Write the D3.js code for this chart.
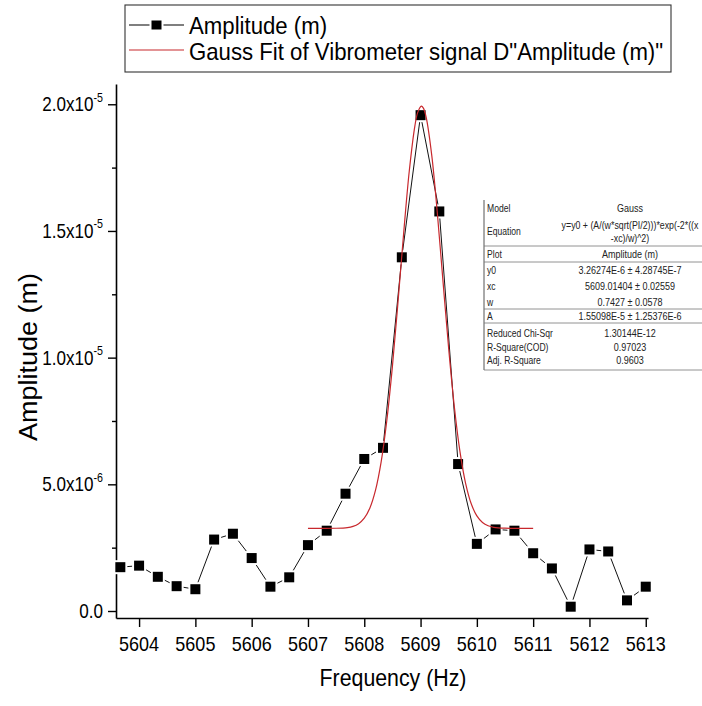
<!DOCTYPE html>
<html><head><meta charset="utf-8">
<script src="https://cdn.jsdelivr.net/npm/d3@7"></script>
<style>body{margin:0;background:#fff}svg{display:block}</style>
</head><body><svg id="c" width="702" height="706"></svg>
<script>
// ---- data ----
const freq = [5603.667, 5604.0, 5604.333, 5604.667, 5605.0, 5605.333, 5605.667, 5606.0, 5606.333, 5606.667,
  5607.0, 5607.333, 5607.667, 5608.0, 5608.333, 5608.667, 5609.0, 5609.333, 5609.667, 5610.0,
  5610.333, 5610.667, 5611.0, 5611.333, 5611.667, 5612.0, 5612.333, 5612.667, 5613.0];
const amplitude = [1.73e-6, 1.79e-6, 1.35e-6, 0.98e-6, 0.86e-6, 2.82e-6, 3.05e-6, 2.09e-6, 0.96e-6, 1.33e-6,
  2.60e-6, 3.17e-6, 4.63e-6, 6.00e-6, 6.44e-6, 13.96e-6, 19.57e-6, 15.77e-6, 5.80e-6, 2.65e-6,
  3.22e-6, 3.17e-6, 2.28e-6, 1.68e-6, 0.17e-6, 2.43e-6, 2.35e-6, 0.42e-6, 0.96e-6];
const fitFreq = [5607.0, 5607.5, 5607.7, 5607.8, 5607.9, 5608.0, 5608.1, 5608.2, 5608.3, 5608.4, 5608.5,
  5608.6, 5608.7, 5608.8, 5608.9, 5608.95, 5609.014, 5609.05, 5609.1, 5609.2, 5609.3, 5609.4, 5609.5,
  5609.6, 5609.7, 5609.8, 5609.9, 5610.0, 5610.1, 5610.2, 5610.3, 5610.5, 5611.0];
const fitAmp = [3.263e-6, 3.267e-6, 3.294e-6, 3.342e-6, 3.448e-6, 3.663e-6, 4.069e-6, 4.771e-6, 5.887e-6, 7.510e-6, 9.656e-6,
  12.214e-6, 14.917e-6, 17.376e-6, 19.159e-6, 19.679e-6, 19.925e-6, 19.847e-6, 19.484e-6, 17.961e-6, 15.650e-6, 12.971e-6, 10.340e-6,
  8.060e-6, 6.287e-6, 5.037e-6, 4.230e-6, 3.753e-6, 3.494e-6, 3.364e-6, 3.304e-6, 3.268e-6, 3.263e-6];
const xTicks = [5604, 5605, 5606, 5607, 5608, 5609, 5610, 5611, 5612, 5613];
const yTicks = [0, 5e-6, 1e-5, 1.5e-5, 2e-5];
const yTickMain = ["0.0", "5.0x10", "1.0x10", "1.5x10", "2.0x10"];
const yTickExp = ["", "-6", "-5", "-5", "-5"];
const yMinorTicks = [2.5e-6, 7.5e-6, 1.25e-5, 1.75e-5];
const xTitle = "Frequency (Hz)";
const yTitle = "Amplitude (m)";
const legendLabels = ["Amplitude (m)", "Gauss Fit of Vibrometer signal D\"Amplitude (m)\""];
const tableLabels = ["Model", "Equation", "Plot", "y0", "xc", "w", "A", "Reduced Chi-Sqr", "R-Square(COD)", "Adj. R-Square"];
const tableValues = ["Gauss", "y=y0 + (A/(w*sqrt(PI/2)))*exp(-2*((x|-xc)/w)^2)", "Amplitude (m)",
  "3.26274E-6 \u00b1 4.28745E-7", "5609.01404 \u00b1 0.02559", "0.7427 \u00b1 0.0578", "1.55098E-5 \u00b1 1.25376E-6",
  "1.30144E-12", "0.97023", "0.9603"];

// ---- layout ----
const FONT = "'Liberation Sans', Arial, sans-serif";
const svg = d3.select("#c");
const x = d3.scaleLinear().domain([5603.59, 5613.04]).range([116, 648]);
const y = d3.scaleLinear().domain([-0.276e-6, 2.08e-5]).range([618, 84]);

function txt(g, px, py, str, size, sx, anchor, rot) {
  return g.append("text")
    .attr("transform", `translate(${px},${py}) scale(${sx},1)` + (rot ? ` rotate(${rot})` : ""))
    .attr("font-family", FONT).attr("font-size", size).attr("text-anchor", anchor || "start")
    .attr("fill", "#000").text(str);
}

// axes
svg.append("g").attr("transform", "translate(0,618)")
  .call(d3.axisBottom(x).tickValues(xTicks).tickSize(9).tickSizeOuter(0).tickFormat(""));
svg.append("g").attr("transform", "translate(116,0)")
  .call(d3.axisLeft(y).tickValues(yTicks).tickSize(8).tickSizeOuter(0).tickFormat(""));
svg.append("g").attr("transform", "translate(116,0)")
  .call(d3.axisLeft(y).tickValues(yMinorTicks).tickSize(4).tickSizeOuter(0).tickFormat(""))
  .select(".domain").remove();
svg.selectAll(".domain").attr("stroke", "#000").attr("stroke-width", 1.6);
svg.selectAll(".tick line").attr("stroke", "#000").attr("stroke-width", 1.4);

// tick labels
xTicks.forEach(v => txt(svg, x(v), 651, String(v), 20, 0.9, "middle"));
yTicks.forEach((v, i) => {
  const t = txt(svg, 103, y(v) + 7, null, 20, 0.855, "end");
  t.append("tspan").text(yTickMain[i]);
  if (yTickExp[i]) t.append("tspan").attr("dy", -9.5).attr("font-size", 12.5).text(yTickExp[i]);
});
// titles
txt(svg, 393, 686, xTitle, 24.5, 0.87, "middle");
txt(svg, 37, 357, yTitle, 27, 0.95, "middle", -90);

// data line + markers
svg.append("path").datum(freq.map((f, i) => [f, amplitude[i]]))
  .attr("d", d3.line().x(d => x(d[0])).y(d => y(d[1])))
  .attr("fill", "none").attr("stroke", "#111").attr("stroke-width", 1);
const S = 10;
svg.append("g").selectAll("rect").data(freq).join("rect")
  .attr("x", (d) => x(d) - S / 2 - 2).attr("y", (d, i) => y(amplitude[i]) - S / 2 - 2)
  .attr("width", S + 4).attr("height", S + 4).attr("fill", "#fff");
svg.append("g").selectAll("rect").data(freq).join("rect")
  .attr("x", (d) => x(d) - S / 2).attr("y", (d, i) => y(amplitude[i]) - S / 2)
  .attr("width", S).attr("height", S).attr("fill", "#000");

// fit curve
svg.append("path").datum(fitFreq.map((f, i) => [f, fitAmp[i]]))
  .attr("d", d3.line().curve(d3.curveCatmullRom).x(d => x(d[0])).y(d => y(d[1])))
  .attr("fill", "none").attr("stroke", "#c8282d").attr("stroke-width", 1.2);

// legend
const lg = svg.append("g");
lg.append("rect").attr("x", 125).attr("y", 5).attr("width", 546).attr("height", 67)
  .attr("fill", "#fff").attr("stroke", "#333").attr("stroke-width", 1.1);
lg.append("line").attr("x1", 129).attr("x2", 184).attr("y1", 25).attr("y2", 25).attr("stroke", "#000").attr("stroke-width", 1.2);
lg.append("rect").attr("x", 149.5).attr("y", 19).attr("width", 14).attr("height", 12).attr("fill", "#fff");
lg.append("rect").attr("x", 151.5).attr("y", 20.5).attr("width", 10).attr("height", 9).attr("fill", "#000");
lg.append("line").attr("x1", 129).attr("x2", 184).attr("y1", 50).attr("y2", 50).attr("stroke", "#c8282d").attr("stroke-width", 1.2);
txt(lg, 189, 33.5, legendLabels[0], 24, 0.925, "start");
txt(lg, 189, 60, legendLabels[1], 24, 0.925, "start");

// stats table
const tb = svg.append("g");
const rowC = [208, 231, 254, 270, 286, 302, 316, 333, 347, 360];
const seps = [246, 262, 309, 323, 370];
tb.append("line").attr("x1", 484).attr("x2", 484).attr("y1", 200).attr("y2", 370).attr("stroke", "#555").attr("stroke-width", 1);
seps.forEach(s => tb.append("line").attr("x1", 484).attr("x2", 702).attr("y1", s).attr("y2", s).attr("stroke", "#777").attr("stroke-width", 0.8));
tableLabels.forEach((l, i) => txt(tb, 487, rowC[i] + 4, l, 11, 0.78, "start").attr("fill", "#222"));
tableValues.forEach((v, i) => {
  const parts = v.split("|");
  if (parts.length === 2) {
    txt(tb, 630, 225 + 4, parts[0], 11, 0.8, "middle").attr("fill", "#222");
    txt(tb, 630, 238 + 4, parts[1], 11, 0.8, "middle").attr("fill", "#222");
  } else {
    txt(tb, 630, rowC[i] + 4, v, 11, 0.82, "middle").attr("fill", "#222");
  }
});
</script></body></html>
